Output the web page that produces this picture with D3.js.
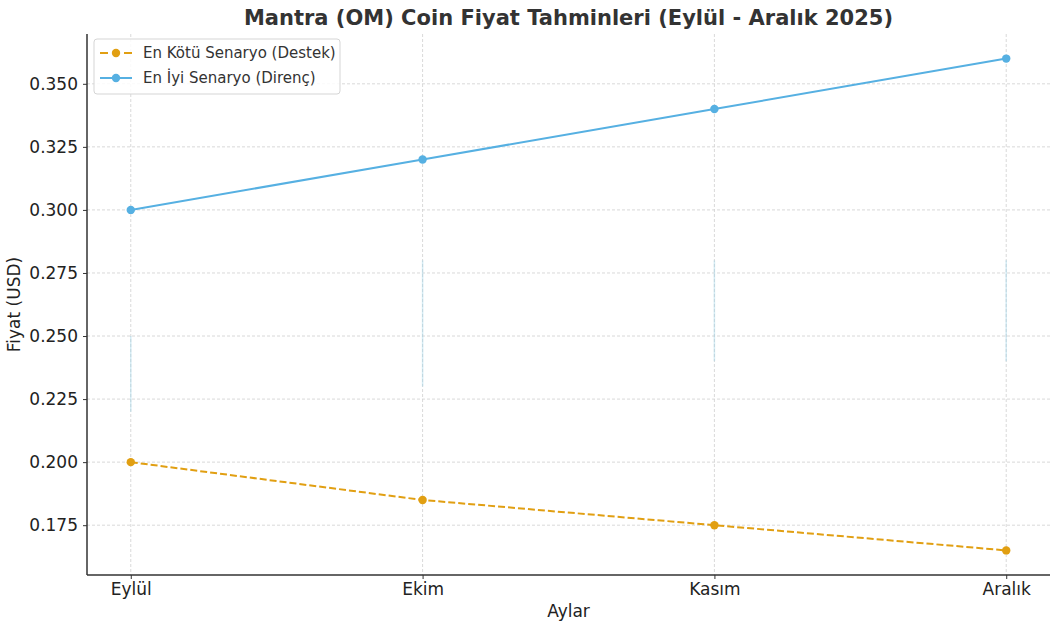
<!DOCTYPE html>
<html>
<head>
<meta charset="utf-8">
<script src="https://cdn.jsdelivr.net/npm/d3@7"></script>
<style>
  body { margin: 0; background: #fff; }
  text { font-family: "DejaVu Sans", sans-serif; }
</style>
</head>
<body>
<div id="chart"></div>
<script>
var months = ["Eylül", "Ekim", "Kasım", "Aralık"];
var worstCase = [0.2, 0.185, 0.175, 0.165];
var bestCase = [0.3, 0.32, 0.34, 0.36];
var rangeLow = [0.22, 0.23, 0.24, 0.24];
var rangeHigh = [0.25, 0.28, 0.28, 0.28];
var yTicks = [0.175, 0.2, 0.225, 0.25, 0.275, 0.3, 0.325, 0.35];

var w = 1056,
  h = 626;
var margin = { left: 87, right: 6, top: 34, bottom: 51 },
  width = w - margin.left - margin.right,
  height = h - margin.top - margin.bottom;

var orange = "#e19f12",
  blue = "#56b0e2";

var svg = d3
  .select("#chart")
  .append("svg")
  .attr("width", w)
  .attr("height", h);

var g = svg
  .append("g")
  .attr("transform", `translate(${margin.left}, ${margin.top})`);

var x = d3
  .scaleLinear()
  .domain([-0.15, months.length - 1 + 0.15])
  .range([0, width]);

var allVals = worstCase.concat(bestCase);
var yMin = d3.min(allVals),
  yMax = d3.max(allVals),
  pad = (yMax - yMin) * 0.05;
var y = d3
  .scaleLinear()
  .domain([yMin - pad, yMax + pad])
  .range([height, 0]);

// grid
g.append("g")
  .selectAll("line")
  .data(yTicks)
  .enter()
  .append("line")
  .attr("x1", 0)
  .attr("x2", width)
  .attr("y1", (d) => y(d))
  .attr("y2", (d) => y(d))
  .attr("stroke", "#cfcfcf")
  .attr("stroke-width", 0.8)
  .attr("stroke-dasharray", "3,2");

g.append("g")
  .selectAll("line")
  .data(months)
  .enter()
  .append("line")
  .attr("x1", (d, i) => x(i))
  .attr("x2", (d, i) => x(i))
  .attr("y1", 0)
  .attr("y2", height)
  .attr("stroke", "#cfcfcf")
  .attr("stroke-width", 0.8)
  .attr("stroke-dasharray", "3,2");

// faint expected range
g.append("g")
  .selectAll("line")
  .data(months)
  .enter()
  .append("line")
  .attr("x1", (d, i) => x(i))
  .attr("x2", (d, i) => x(i))
  .attr("y1", (d, i) => y(rangeLow[i]))
  .attr("y2", (d, i) => y(rangeHigh[i]))
  .attr("stroke", "#9fd3e6")
  .attr("stroke-opacity", 0.45)
  .attr("stroke-width", 1.5);

var line = d3
  .line()
  .x((d, i) => x(i))
  .y((d) => y(d));

var series = [
  { name: "En Kötü Senaryo (Destek)", values: worstCase, color: orange, dash: "7,3" },
  { name: "En İyi Senaryo (Direnç)", values: bestCase, color: blue, dash: null },
];

series.forEach(function (s) {
  g.append("path")
    .datum(s.values)
    .attr("fill", "none")
    .attr("stroke", s.color)
    .attr("stroke-width", 2)
    .attr("stroke-dasharray", s.dash)
    .attr("d", line);
  g.append("g")
    .selectAll("circle")
    .data(s.values)
    .enter()
    .append("circle")
    .attr("cx", (d, i) => x(i))
    .attr("cy", (d) => y(d))
    .attr("r", 4.2)
    .attr("fill", s.color);
});

// axes
var xAxis = d3
  .axisBottom(x)
  .tickValues(d3.range(months.length))
  .tickFormat((d) => months[d])
  .tickSize(4)
  .tickPadding(4);
var gx = g.append("g").attr("transform", `translate(0, ${height})`).call(xAxis);

var yAxis = d3
  .axisLeft(y)
  .tickValues(yTicks)
  .tickFormat(d3.format(".3f"))
  .tickSize(4)
  .tickPadding(5);
var gy = g.append("g").call(yAxis);

[gx, gy].forEach(function (a) {
  a.selectAll("text").attr("font-size", 17).attr("fill", "#222");
  a.selectAll("line").attr("stroke", "#333");
  a.select(".domain").attr("stroke", "#333").attr("stroke-width", 1.5);
});
gx.select(".domain").attr("d", `M0,0H${width}`);
gy.select(".domain").attr("d", `M0,0V${height}`);

// labels
svg.append("text")
  .attr("x", margin.left + width / 2)
  .attr("y", 25)
  .attr("text-anchor", "middle")
  .attr("font-size", 21)
  .attr("font-weight", "bold")
  .attr("fill", "#333")
  .text("Mantra (OM) Coin Fiyat Tahminleri (Eylül - Aralık 2025)");

svg.append("text")
  .attr("x", margin.left + width / 2)
  .attr("y", 617)
  .attr("text-anchor", "middle")
  .attr("font-size", 17)
  .attr("fill", "#222")
  .text("Aylar");

svg.append("text")
  .attr("transform", `translate(20, ${margin.top + height / 2}) rotate(-90)`)
  .attr("text-anchor", "middle")
  .attr("font-size", 17)
  .attr("fill", "#222")
  .text("Fiyat (USD)");

// legend
var legend = svg.append("g").attr("transform", "translate(94, 39)");
legend
  .append("rect")
  .attr("width", 246)
  .attr("height", 55)
  .attr("rx", 3)
  .attr("fill", "#fff")
  .attr("fill-opacity", 0.85)
  .attr("stroke", "#d5d5d5");

var items = legend
  .selectAll("g.item")
  .data(series)
  .enter()
  .append("g")
  .attr("class", "item")
  .attr("transform", (d, i) => `translate(0, ${14 + i * 25})`);

items
  .append("line")
  .attr("x1", 6)
  .attr("x2", 38)
  .attr("stroke", (d) => d.color)
  .attr("stroke-width", 2)
  .attr("stroke-dasharray", (d) => (d.dash ? "8,4" : null));
items
  .append("circle")
  .attr("cx", 22)
  .attr("r", 4.2)
  .attr("fill", (d) => d.color);
items
  .append("text")
  .attr("x", 49)
  .attr("dy", "0.35em")
  .attr("font-size", 15)
  .attr("fill", "#333")
  .text((d) => d.name);
</script>
</body>
</html>
